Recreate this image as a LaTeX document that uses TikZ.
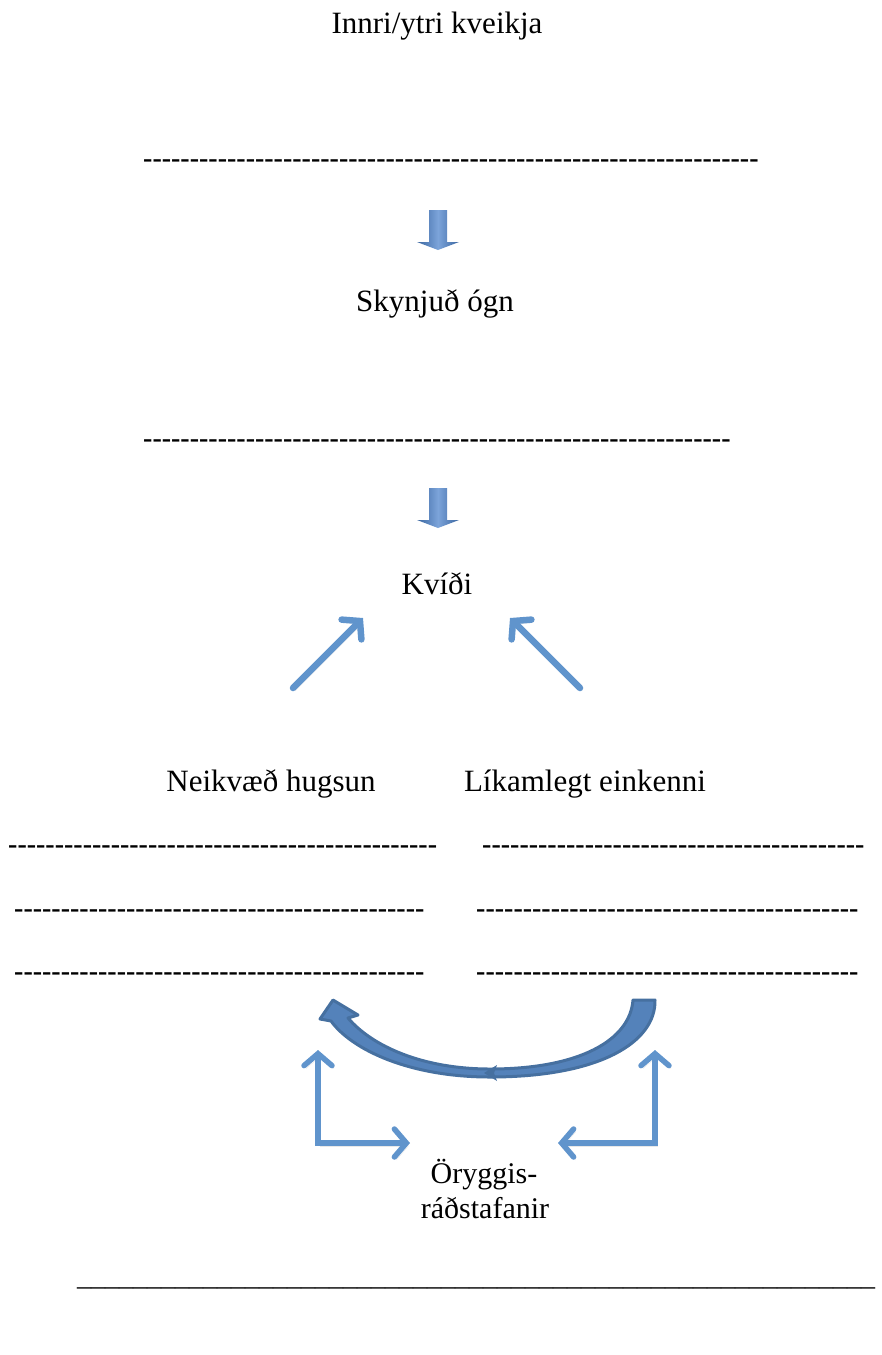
\documentclass[tikz,border=0pt]{standalone}
\usepackage{fontspec}
\setmainfont{Liberation Serif}
\usepackage{tikz}
\usetikzlibrary{positioning,arrows.meta}

\definecolor{arrowblue}{RGB}{96,148,204}
\definecolor{curveblue}{RGB}{70,112,160}
\definecolor{curvefill}{RGB}{84,130,186}
\definecolor{blockdark}{RGB}{58,102,160}
\definecolor{blocklight}{RGB}{124,164,218}

\newcommand{\hyphrow}[1]{\foreach \k in {1,...,#1}{-\kern0pt}}
\newcommand{\lowrow}[1]{\foreach \k in {1,...,#1}{\textunderscore}}

\begin{document}
\begin{tikzpicture}[
    x=1pt, y=-1pt,
    txt/.style={inner sep=0pt, anchor=base, font=\fontsize{31}{37}\selectfont},
    dashline/.style={inner sep=0pt, anchor=base west, font=\fontsize{28}{34}\selectfont\bfseries},
    blockarrow/.style={left color=blockdark, right color=blockdark, middle color=blocklight},
    slant/.style={draw=arrowblue, line width=6.5pt, line cap=round, line join=round,
        -{Straight Barb[length=12pt,width=28pt,line cap=round]},
        preaction={draw=black!45, opacity=.2, transform canvas={shift={(2pt,-3pt)}}}},
    elbow/.style={draw=arrowblue, line width=5.5pt, line cap=round,
        {Straight Barb[length=12pt,width=28pt,line cap=round]}-{Straight Barb[length=12pt,width=28pt,line cap=round]},
        preaction={draw=black!45, opacity=.2, transform canvas={shift={(2pt,-3pt)}}}}
]
    \useasboundingbox (0,0) rectangle (882,1355);

    % Nodes
    \node[txt] (trigger) at (437,33) {Innri/ytri kveikja};
    \node[dashline] (rowa) at (143,167) {\hyphrow{66}};
    \node[txt] (threat) at (435,311) {Skynjuð ógn};
    \node[dashline] (rowb) at (143,447) {\hyphrow{63}};
    \node[txt] (anxiety) at (437,594) {Kvíði};
    \node[txt] (negthought) at (271,791) {Neikvæð hugsun};
    \node[txt] (bodysign) at (585,791) {Líkamlegt einkenni};

    % rows under the two headings
    \node[dashline] (lefta) at (8,853) {\hyphrow{46}};
    \node[dashline] (leftb) at (14,917) {\hyphrow{44}};
    \node[dashline] (leftc) at (14,980) {\hyphrow{44}};
    \node[dashline] (righta) at (482,853) {\hyphrow{41}};
    \node[dashline] (rightb) at (476,917) {\hyphrow{41}};
    \node[dashline] (rightc) at (476,980) {\hyphrow{41}};

    \node[txt, font=\fontsize{30}{36}\selectfont] (safetya) at (484,1183) {Öryggis-};
    \node[txt, font=\fontsize{30}{36}\selectfont] (safetyb) at (485,1218) {ráðstafanir};
    \node[dashline, font=\fontsize{28}{34}\selectfont] (rule) at (77,1285) {\lowrow{57}};

    % Block arrows
    \foreach \y in {210,488}
        \shade[blockarrow] (429,\y) -- (447,\y) -- (447,\y+32) -- (459,\y+32)
            -- (438,\y+40) -- (417,\y+32) -- (429,\y+32) -- cycle;

    % Arrows
    \coordinate (lefttail) at (293,688);
    \coordinate (lefthead) at (363,618);
    \coordinate (righttail) at (580,688);
    \coordinate (righthead) at (510,618);
    \draw[slant] (lefttail) -- (lefthead);
    \draw[slant] (righttail) -- (righthead);

    \coordinate (leftup) at (318,1050);
    \coordinate (leftin) at (410,1143);
    \coordinate (rightup) at (655,1050);
    \coordinate (rightin) at (558,1143);
    \draw[elbow] (leftup) |- (leftin);
    \draw[elbow] (rightup) |- (rightin);

    % Curved arrow
    \filldraw[fill=curvefill, draw=curveblue, line width=3pt, line join=round]
        (655,1000) .. controls (656,1042) and (600,1077) .. (490,1077)
        .. controls (410,1077) and (352,1050) .. (331,1021)
        -- (320,1019) -- (333,1000) -- (358,1015) -- (348,1018)
        .. controls (372,1046) and (422,1069) .. (490,1069)
        .. controls (580,1069) and (630,1040) .. (633,1000) -- cycle;
    \fill[curveblue] (484,1073) -- (497,1065) -- (494,1073) -- (497,1081) -- cycle;
\end{tikzpicture}
\end{document}
